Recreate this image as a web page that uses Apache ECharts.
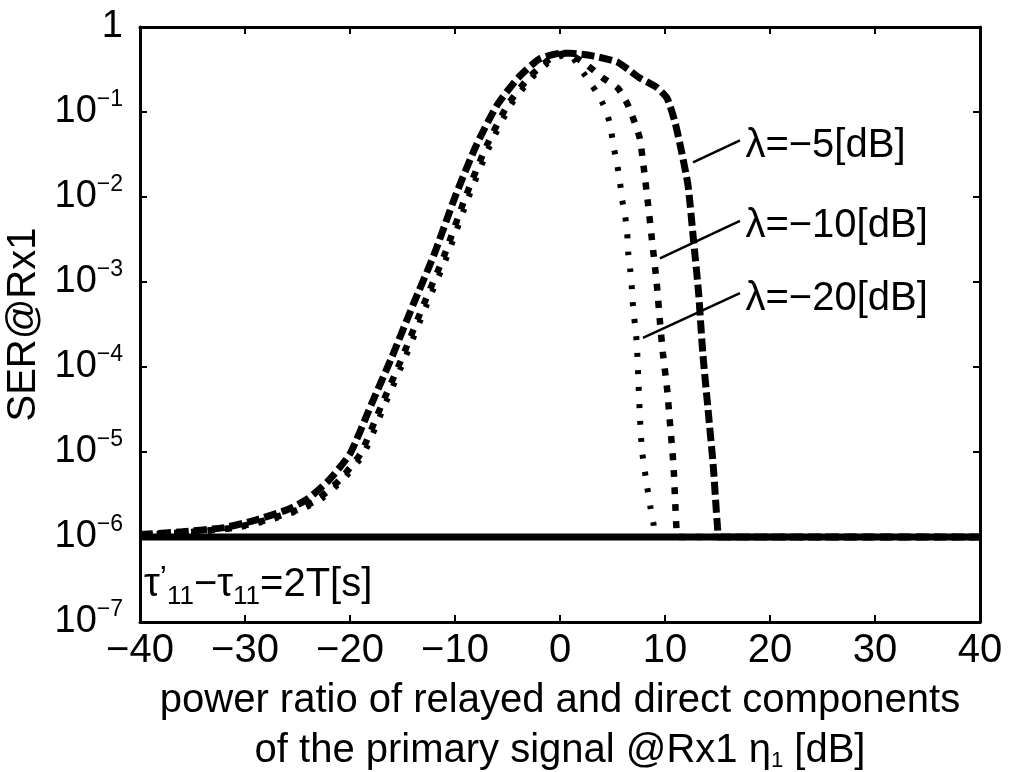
<!DOCTYPE html>
<html>
<head>
<meta charset="utf-8">
<script src="https://cdn.jsdelivr.net/npm/echarts@6/dist/echarts.min.js"></script>
<style>
    html, body { margin: 0; padding: 0; background: #fff; }
    #chart { width: 1014px; height: 772px; }
</style>
</head>
<body>
<div id="chart"></div>
<script>
// x: power ratio eta1 [dB], y: SER@Rx1
const xTicks = [-40, -30, -20, -10, 0, 10, 20, 30, 40];

// lambda = -5 dB
const x5 = [-40, -36, -32, -29, -26, -24, -22, -20, -18, -16, -14, -12, -10, -8, -6, -4, -2, 0,
    1, 3.1, 5.4, 6.5, 7.6, 9.2, 10.2, 10.95, 11.6, 12.2, 12.7, 13.2, 13.6, 14.1, 14.6, 15.0, 15.2, 40];
const ser5 = [1.07e-6, 1.15e-6, 1.29e-6, 1.58e-6, 2.09e-6, 2.82e-6, 4.68e-6, 9.55e-6, 3.55e-5, 1.32e-4,
    5.37e-4, 2.09e-3, 0.01, 0.0398, 0.120, 0.251, 0.417, 0.490,
    0.490, 0.457, 0.389, 0.316, 0.251, 0.195, 0.145, 0.0759, 0.0331, 0.0135, 3.24e-3, 7.41e-4,
    1.45e-4, 3.16e-5, 6.76e-6, 1.32e-6, 1e-6, 1e-6];

// lambda = -10 dB
const x10 = [-40, -35, -31, -28, -25, -23, -21, -19, -17, -15, -13, -11, -9, -7, -5, -3, -1, 0.5,
    1.5, 2.6, 4.1, 5.5, 6.4, 7.1, 7.6, 8.0, 8.4, 8.8, 9.2, 9.5, 9.8, 10.2, 10.5, 10.8, 10.95, 11.1, 11.2, 40];
const ser10 = [1.05e-6, 1.15e-6, 1.29e-6, 1.58e-6, 2.09e-6, 2.82e-6, 4.68e-6, 9.55e-6, 3.55e-5, 1.32e-4,
    5.37e-4, 2.09e-3, 0.01, 0.0398, 0.120, 0.251, 0.417, 0.490,
    0.437, 0.355, 0.251, 0.191, 0.126, 0.0759, 0.0490, 0.0209, 0.00794, 0.00282, 0.001, 3.63e-4,
    1.45e-4, 5.50e-5, 2.0e-5, 7.24e-6, 2.95e-6, 1.20e-6, 1e-6, 1e-6];

// lambda = -20 dB
const x20 = [-40, -34.7, -30.7, -27.7, -24.7, -22.7, -20.7, -18.7, -16.7, -14.7, -12.7, -10.7, -8.7, -6.7,
    -4.7, -2.7, -0.7, 0.8, 2, 3, 3.5, 4.3, 4.8, 5.05, 5.4, 5.7, 5.9, 6.2, 6.4, 6.5, 6.7, 6.85, 6.95,
    7.3, 7.45, 7.6, 7.8, 8.3, 8.6, 8.9, 9.2, 40];
const ser20 = [1.04e-6, 1.15e-6, 1.29e-6, 1.58e-6, 2.09e-6, 2.82e-6, 4.68e-6, 9.55e-6, 3.55e-5, 1.32e-4,
    5.37e-4, 2.09e-3, 0.01, 0.0398, 0.120, 0.251, 0.417, 0.480, 0.316, 0.209, 0.170, 0.110, 0.0692,
    0.0427, 0.0257, 0.0155, 0.00955, 0.00603, 0.00372, 0.00219, 0.00135, 8.32e-4, 5.25e-4,
    2.0e-4, 7.76e-5, 2.82e-5, 1.07e-5, 3.89e-6, 2.29e-6, 1.45e-6, 1e-6, 1e-6];

// reference floor at 1e-6
const floorX = [-40, 40];
const floorSer = [1e-6, 1e-6];

// label leader lines: [x1, y1, x2, y2, text]
const leaders = [
    [12.67, 0.0255, 17.14, 0.0465, 'λ=−5[dB]'],
    [9.52, 1.9e-3, 17.14, 5.25e-3, 'λ=−10[dB]'],
    [7.9, 2.2e-4, 17.14, 7.4e-4, 'λ=−20[dB]'],
];

const FONT = '"Liberation Sans", Arial, Helvetica, sans-serif';

function pairs(xs, ys) {
    return xs.map((x, i) => [x, ys[i]]);
}

function minus(v) {
    return v < 0 ? '−' + (-v) : String(v);
}

const chart = echarts.init(document.getElementById('chart'));

const axisLineStyle = { color: '#000', width: 3 };
const tickStyle = { show: true, inside: true, length: 7, lineStyle: { color: '#000', width: 2 } };

const option = {
    animation: false,
    backgroundColor: '#fff',
    grid: {
        left: 140,
        right: 34,
        top: 27,
        bottom: 150,
        containLabel: false,
        outerBoundsMode: 'none',
    },
    xAxis: [
        {
            type: 'value',
            min: -40,
            max: 40,
            interval: 10,
            axisLine: { show: true, onZero: false, lineStyle: axisLineStyle },
            axisTick: tickStyle,
            splitLine: { show: false },
            axisLabel: {
                color: '#000',
                fontFamily: FONT,
                fontSize: 40,
                margin: 9,
                formatter: minus,
            },
            name: '{n|power ratio of relayed and direct components}\n{n|of the primary signal @Rx1 η}{s|1}{n| [dB]}',
            nameLocation: 'middle',
            nameGap: 33,
            nameTextStyle: {
                color: '#000',
                fontFamily: FONT,
                fontSize: 40,
                lineHeight: 50,
                rich: {
                    n: { fontFamily: FONT, fontSize: 40, color: '#000', lineHeight: 50 },
                    s: { fontFamily: FONT, fontSize: 22, color: '#000', padding: [20, 0, 0, 0] },
                },
            },
        },
        {
            type: 'value',
            position: 'top',
            min: -40,
            max: 40,
            interval: 10,
            axisLine: { show: true, onZero: false, lineStyle: axisLineStyle },
            axisTick: tickStyle,
            axisLabel: { show: false },
            splitLine: { show: false },
        },
    ],
    yAxis: [
        {
            type: 'log',
            logBase: 10,
            min: 1e-7,
            max: 1,
            interval: 1,
            axisLine: { show: true, onZero: false, lineStyle: axisLineStyle },
            axisTick: tickStyle,
            splitLine: { show: false },
            axisLabel: {
                margin: 17,
                formatter: function (v) {
                    const n = Math.round(Math.log10(v));
                    if (n === 0) {
                        return '{b|1}';
                    }
                    return '{b|10}{e|−' + (-n) + '}';
                },
                rich: {
                    b: { fontFamily: FONT, fontSize: 38, color: '#000' },
                    e: { fontFamily: FONT, fontSize: 23, color: '#000', padding: [0, 0, 25, 0] },
                },
            },
            name: 'SER@Rx1',
            nameLocation: 'middle',
            nameGap: 87,
            nameTextStyle: { color: '#000', fontFamily: FONT, fontSize: 40 },
        },
        {
            type: 'log',
            logBase: 10,
            min: 1e-7,
            max: 1,
            interval: 1,
            position: 'right',
            axisLine: { show: true, onZero: false, lineStyle: axisLineStyle },
            axisTick: tickStyle,
            axisLabel: { show: false },
            splitLine: { show: false },
        },
    ],
    graphic: [
        {
            type: 'text',
            left: 144,
            top: 563,
            style: {
                text: '{t|τ}{p|’}{s|11}{t|−τ}{s|11}{t|=2T[s]}',
                rich: {
                    t: { fontFamily: FONT, fontSize: 40, fill: '#000' },
                    p: { fontFamily: FONT, fontSize: 32, fill: '#000', padding: [0, 0, 12, 0] },
                    s: { fontFamily: FONT, fontSize: 26, fill: '#000', padding: [24, 0, 0, 0] },
                },
            },
        },
    ],
    series: [
        {
            name: 'floor',
            type: 'line',
            data: pairs(floorX, floorSer),
            showSymbol: false,
            lineStyle: { color: '#000', width: 7 },
            z: 3,
            markLine: {
                silent: true,
                symbol: ['none', 'none'],
                lineStyle: { color: '#000', width: 2.5, type: 'solid' },
                label: {
                    show: true,
                    position: 'end',
                    distance: 6,
                    offset: [0, 8],
                    color: '#000',
                    fontFamily: FONT,
                    fontSize: 40,
                    formatter: (p) => p.data.name,
                },
                data: leaders.map((l) => [
                    { coord: [l[0], l[1]], name: l[4] },
                    { coord: [l[2], l[3]] },
                ]),
            },
        },
        {
            name: 'λ=−5[dB]',
            type: 'line',
            data: pairs(x5, ser5),
            showSymbol: false,
            smooth: 0.2,
            lineStyle: { color: '#000', width: 7, type: [13, 5], cap: 'butt' },
        },
        {
            name: 'λ=−10[dB]',
            type: 'line',
            data: pairs(x10, ser10),
            showSymbol: false,
            smooth: 0.2,
            lineStyle: { color: '#000', width: 6.5, type: [7, 10], cap: 'butt' },
        },
        {
            name: 'λ=−20[dB]',
            type: 'line',
            data: pairs(x20, ser20),
            showSymbol: false,
            smooth: 0.2,
            lineStyle: { color: '#000', width: 6, type: [4, 13], cap: 'butt' },
        },
    ],
};

chart.setOption(option);
</script>
</body>
</html>
